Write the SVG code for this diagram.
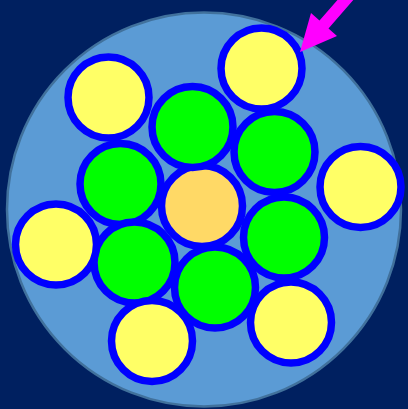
<svg xmlns="http://www.w3.org/2000/svg" width="408" height="409" viewBox="0 0 408 409">
<style>
.c{stroke:#0000FF;stroke-width:7.5}
.y{fill:#FFFF66}
.g{fill:#00FF00}
.o{fill:#FFD966}
</style>
<rect width="408" height="409" fill="#002060"/>
<g id="cable"><circle cx="204" cy="209.5" r="197" fill="#5B9BD5" stroke="#41719C" stroke-width="2.5"/></g>
<g id="core"><circle class="c o" cx="202" cy="206" r="40.5"/></g>
<g id="g1"><circle class="c g" cx="192.5" cy="127" r="40.5"/></g>
<g id="g2"><circle class="c g" cx="274.5" cy="152" r="40.5"/></g>
<g id="g3"><circle class="c g" cx="120.5" cy="184" r="40.5"/></g>
<g id="g4"><circle class="c g" cx="284" cy="237.5" r="40.5"/></g>
<g id="g5"><circle class="c g" cx="134.5" cy="262.5" r="40.5"/></g>
<g id="g6"><circle class="c g" cx="215" cy="287.5" r="40.5"/></g>
<g id="y1"><circle class="c y" cx="261.5" cy="68.5" r="40.5"/></g>
<g id="y2"><circle class="c y" cx="108.5" cy="97.5" r="40.5"/></g>
<g id="y3"><circle class="c y" cx="360.5" cy="187" r="40.5"/></g>
<g id="y4"><circle class="c y" cx="56" cy="244.5" r="40.5"/></g>
<g id="y5"><circle class="c y" cx="291" cy="322.5" r="40.5"/></g>
<g id="y6"><circle class="c y" cx="152" cy="341" r="40.5"/></g>
<g id="arrow"><polygon fill="#FF00FF" points="300,52 311,13 319.5,20.6 358.9,-24.6 367.9,-16.8 328.5,28.4 337,36"/></g>
</svg>
